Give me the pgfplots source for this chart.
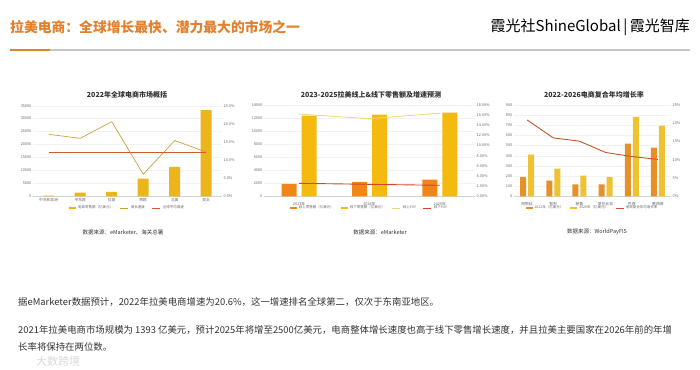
\documentclass[border=0pt]{standalone}
\usepackage{fontspec}
\setmainfont{Noto Sans CJK SC}
\usepackage{pgfplots}
\pgfplotsset{compat=1.18}
\definecolor{titleorange}{HTML}{E47F2C}
\definecolor{lblgray}{HTML}{666666}
\definecolor{txtgray}{HTML}{333333}
\definecolor{goldA}{HTML}{EDB51C}
\definecolor{growA}{HTML}{C9A23C}
\definecolor{avgA}{HTML}{CF5A2B}
\definecolor{orB}{HTML}{F0861A}
\definecolor{yeB}{HTML}{F4BA10}
\definecolor{onB}{HTML}{E9D67E}
\definecolor{offB}{HTML}{D2472C}
\definecolor{orC}{HTML}{E6902A}
\definecolor{yeC}{HTML}{EEC232}
\definecolor{lnC}{HTML}{C4552C}
\pgfplotsset{
  base/.style={scale only axis, anchor=north west,
    tick style={draw=none}, scaled y ticks=false,
    ticklabel style={font=\fontsize{3.8}{4}\selectfont, text=lblgray, inner sep=1.5pt},
    /pgf/number format/assume math mode=true,
    /pgf/number format/1000 sep={},
  },
  leftax/.style={base, axis x line*=bottom, axis y line*=left,
    y axis line style={draw=none}, x axis line style={draw=gray!35, -},
    ymajorgrids, grid style={gray!10, line width=0.3pt}},
  rightax/.style={base, axis y line*=right, axis x line=none, xtick=\empty,
    y axis line style={draw=none},
    legend style={draw=none, fill=none, font=\fontsize{3.5}{4}\selectfont, text=lblgray,
      legend columns=-1, /tikz/every even column/.append style={column sep=5pt},
      inner sep=0pt, anchor=center, cells={anchor=west}}},
  barleg/.style={legend image code/.code={\fill[##1] (0pt,-1.2pt) rectangle (7pt,1.2pt);}},
  lineleg/.style={legend image code/.code={\draw[##1] (0pt,0pt) -- (8pt,0pt);}},
}
\begin{document}
\begin{tikzpicture}
\path[use as bounding box, fill=white] (0pt,0pt) rectangle (700pt,-369pt);
% header
\node[anchor=west, font=\fontsize{13.8}{15}\selectfont\bfseries, text=titleorange, inner sep=0pt] at (10pt,-27pt) {拉美电商：全球增长最快、潜力最大的市场之一};
\node[anchor=east, font=\fontsize{15}{17}\selectfont, inner sep=0pt] at (690pt,-27pt) {霞光社ShineGlobal\,|\,霞光智库};
\draw[gray!45, line width=1.3pt] (10pt,-50pt) -- (690pt,-50pt);
\draw[titleorange, line width=2.2pt] (10pt,-50pt) -- (50pt,-50pt);
% chart titles
\node[font=\fontsize{7}{8}\selectfont\bfseries, text=txtgray] at (127pt,-95pt) {2022年全球电商市场概括};
\node[font=\fontsize{7}{8}\selectfont\bfseries, text=txtgray] at (371pt,-95pt) {2023-2025拉美线上\&线下零售额及增速预测};
\node[font=\fontsize{7}{8}\selectfont\bfseries, text=txtgray] at (594pt,-95pt) {2022-2026电商复合年均增长率};
% chart 1
\begin{axis}[leftax, at={(33pt,-105.7pt)}, width=189pt, height=90.6pt,
  xmin=-0.5, xmax=5.5, ymin=0, ymax=35000, ytick={0,5000,...,35000},
  xtick={0,...,5}, xticklabels={中东和非洲,中东欧,拉美,西欧,北美,亚太}]
\addplot[ybar, bar width=11pt, fill=goldA, draw=none] coordinates {(0,300) (1,1400) (2,1670) (3,6820) (4,11320) (5,33330)};
\end{axis}
\begin{axis}[rightax, at={(33pt,-105.7pt)}, width=189pt, height=90.6pt,
  xmin=-0.5, xmax=5.5, ymin=0, ymax=25, ytick={0,5,...,25},
  yticklabel={\pgfmathprintnumber[fixed,fixed zerofill,precision=1]{\tick}\%},
  legend style={at={(0.5,-0.13)}}]
\addlegendimage{barleg, fill=goldA, draw=none}
\addlegendentry{电商零售额（亿美元）}
\addplot[lineleg, growA, line width=0.7pt] coordinates {(0,17.1) (1,16.0) (2,20.6) (3,6.1) (4,15.4) (5,12.2)};
\addlegendentry{增长速度}
\addplot[lineleg, avgA, line width=1.1pt] coordinates {(0,12.2) (1,12.2) (2,12.2) (3,12.2) (4,12.2) (5,12.2)};
\addlegendentry{全球平均增速}
\end{axis}
% chart 2
\begin{axis}[leftax, at={(264pt,-105pt)}, width=211pt, height=91.3pt,
  ybar=5pt, bar width=15pt,
  xmin=-0.5, xmax=2.5, ymin=0, ymax=14000, ytick={0,2000,...,14000},
  xtick={0,1,2}, xticklabels={2023年,2024年,2025年}]
\addplot[fill=orB, draw=none] coordinates {(0,1890) (1,2200) (2,2550)};
\addplot[fill=yeB, draw=none] coordinates {(0,12360) (1,12520) (2,12830)};
\end{axis}
\begin{axis}[rightax, at={(264pt,-105pt)}, width=211pt, height=91.3pt,
  xmin=-0.5, xmax=2.5, ymin=0, ymax=18, ytick={0,2,...,18},
  yticklabel={\pgfmathprintnumber[fixed,fixed zerofill,precision=2]{\tick}\%},
  legend style={at={(0.5,-0.128)}}]
\addlegendimage{barleg, fill=orB, draw=none}
\addlegendentry{线上零售额（亿美元）}
\addlegendimage{barleg, fill=yeB, draw=none}
\addlegendentry{线下零售额（亿美元）}
\addplot[lineleg, onB, line width=0.8pt] coordinates {(0,16.2) (1,15.3) (2,16.4)};
\addlegendentry{线上YOY}
\addplot[lineleg, offB, line width=0.9pt] coordinates {(0,2.56) (1,2.36) (2,2.17)};
\addlegendentry{线下YOY}
\end{axis}
% chart 3
\begin{axis}[leftax, at={(514pt,-105pt)}, width=157pt, height=91.3pt,
  ybar=2pt, bar width=6pt,
  xmin=-0.5, xmax=5.5, ymin=0, ymax=900, ytick={0,100,...,900},
  xtick={0,...,5}, xticklabels={阿根廷,智利,秘鲁,哥伦比亚,巴西,墨西哥}]
\addplot[fill=orC, draw=none] coordinates {(0,190) (1,154) (2,118) (3,118) (4,519) (5,480)};
\addplot[fill=yeC, draw=none] coordinates {(0,411) (1,273) (2,204) (3,190) (4,782) (5,696)};
\end{axis}
\begin{axis}[rightax, at={(514pt,-105pt)}, width=157pt, height=91.3pt,
  xmin=-0.5, xmax=5.5, ymin=0, ymax=25, ytick={0,5,...,25},
  yticklabel={\pgfmathprintnumber[fixed,precision=0]{\tick}\%},
  legend style={at={(0.5,-0.128)}}]
\addlegendimage{barleg, fill=orC, draw=none}
\addlegendentry{2022年（亿美元）}
\addlegendimage{barleg, fill=yeC, draw=none}
\addlegendentry{2026年（亿美元）}
\addplot[lineleg, lnC, line width=0.9pt] coordinates {(0,20.9) (1,16.0) (2,15.1) (3,12.0) (4,10.9) (5,10.1)};
\addlegendentry{电商复合年均增长率}
\end{axis}
% sources
\node[font=\fontsize{5.5}{6}\selectfont, text=txtgray] at (123pt,-232pt) {数据来源：eMarketer、海关总署};
\node[font=\fontsize{5.5}{6}\selectfont, text=txtgray] at (380pt,-232pt) {数据来源：eMarketer};
\node[font=\fontsize{5.5}{6}\selectfont, text=txtgray] at (597pt,-232pt) {数据来源：WorldPayFIS};
% paragraphs
\node[anchor=west, font=\fontsize{9.4}{11}\selectfont, text=txtgray, inner sep=0pt] at (18pt,-302pt) {据eMarketer数据预计，2022年拉美电商增速为20.6\%，这一增速排名全球第二，仅次于东南亚地区。};
\node[anchor=west, font=\fontsize{9.4}{11}\selectfont, text=txtgray, inner sep=0pt] at (18pt,-330pt) {2021年拉美电商市场规模为 1393 亿美元，预计2025年将增至2500亿美元，电商整体增长速度也高于线下零售增长速度，并且拉美主要国家在2026年前的年增};
\node[anchor=west, font=\fontsize{9.4}{11}\selectfont, text=txtgray, inner sep=0pt] at (18pt,-347pt) {长率将保持在两位数。};
\node[anchor=west, font=\fontsize{11}{12}\selectfont, text=gray!30, inner sep=0pt] at (36pt,-361pt) {大数跨境};
\end{tikzpicture}
\end{document}
